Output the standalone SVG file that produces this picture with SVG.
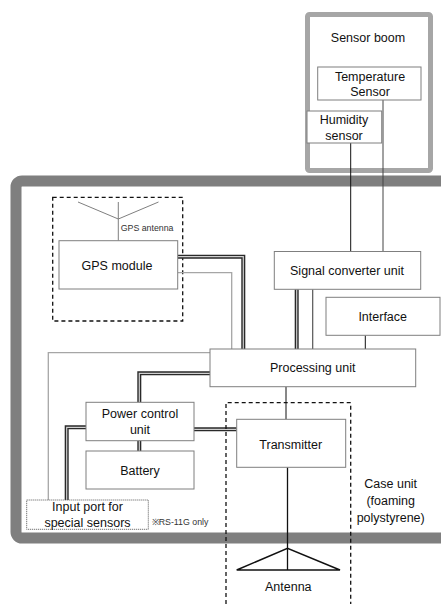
<svg xmlns="http://www.w3.org/2000/svg" width="441" height="604" viewBox="0 0 441 604">
<style>
text{font-family:"Liberation Sans",Arial,sans-serif;font-size:12.5px;fill:#111;text-anchor:middle}
.small{font-size:8.8px;fill:#333;text-anchor:start}
.box{fill:#fff;stroke:#7f7f7f;stroke-width:1}
.dash{fill:none;stroke:#111;stroke-width:1.3;stroke-dasharray:4 3}
.thin{fill:none;stroke:#111;stroke-width:1}
.gray{fill:none;stroke:#a6a6a6;stroke-width:1.3}
.dblo{fill:none;stroke:#2a2a2a;stroke-width:4}
.dbli{fill:none;stroke:#d0d0d0;stroke-width:1.2}
</style>
<rect width="441" height="604" fill="#fff"/>
<g id="case-fill"><rect x="16" y="181" width="460" height="357" rx="6" fill="#fff"/></g>
<g id="sensor-boom">
<rect x="307.5" y="14.5" width="123" height="156" fill="#fff" stroke="#a6a6a6" stroke-width="5" rx="2"/>
<text x="368" y="42">Sensor boom</text>
</g>
<g id="case-border">
<rect x="16" y="181" width="460" height="357" rx="6" fill="none" stroke="#7f7f7f" stroke-width="11"/>
</g>
<g id="gps-group">
<rect class="dash" x="52.7" y="197.3" width="130" height="123.7"/>
<path d="M78 202 L118.3 219 L158.5 202 M118.3 202 V240.7" fill="none" stroke="#7f7f7f" stroke-width="1"/>
<text class="small" x="120.7" y="231">GPS antenna</text>
</g>
<g id="connectors">
<path class="thin" d="M350.7 143 V251.5"/>
<path d="M383 100 V251.5" fill="none" stroke="#444" stroke-width="1"/>
<path class="gray" d="M177.7 272.7 H231.7 V349"/>
<path class="gray" d="M210 352.7 H48.3 V500"/>
<path d="M312.7 289.3 V349" fill="none" stroke="#555" stroke-width="1.2"/>
<path class="thin" d="M365.3 335.3 V349"/>
<path class="thin" d="M286 386.7 V419.3"/>
<path d="M287.5 467.3 V570" fill="none" stroke="#111" stroke-width="1.3"/>
<path d="M236.7 570 L287.5 548.3 L340 570 Z" fill="none" stroke="#111" stroke-width="1.5"/>
<g class="double">
<path class="dblo" d="M177.7 256.7 H243.3 V349"/>
<path class="dbli" d="M177.7 256.7 H243.3 V349"/>
<path class="dblo" d="M296.7 289.3 V349"/>
<path class="dbli" d="M296.7 289.3 V349"/>
<path class="dblo" d="M210 373.3 H139.3 V402.3"/>
<path class="dbli" d="M210 373.3 H139.3 V402.3"/>
<path class="dblo" d="M139.3 440.7 V451"/>
<path class="dbli" d="M139.3 440.7 V451"/>
<path class="dblo" d="M86 427.3 H66.7 V500"/>
<path class="dbli" d="M86 427.3 H66.7 V500"/>
<path class="dblo" d="M194 429.3 H236.7"/>
<path class="dbli" d="M194 429.3 H236.7"/>
</g>
<path class="dash" d="M226 604 V402.7 H350.7 V604"/>
</g>
<g id="temperature-sensor">
<rect class="box" x="317.7" y="67" width="103.3" height="33"/>
<text x="370" y="80.5">Temperature</text>
<text x="370" y="95.5">Sensor</text>
</g>
<g id="humidity-sensor">
<rect class="box" x="307" y="111" width="74.7" height="32"/>
<text x="344" y="123.5">Humidity</text>
<text x="344" y="140">sensor</text>
</g>
<g id="gps-module">
<rect class="box" x="59" y="240.7" width="118.7" height="48.3"/>
<text x="117" y="270">GPS module</text>
</g>
<g id="signal-converter">
<rect class="box" x="274.3" y="251.5" width="146.4" height="37.8"/>
<text x="347" y="274.5">Signal converter unit</text>
</g>
<g id="interface">
<rect class="box" x="326" y="297.3" width="114" height="38"/>
<text x="382.7" y="321">Interface</text>
</g>
<g id="processing-unit">
<rect class="box" x="210" y="349" width="205.7" height="37.7"/>
<text x="312.7" y="371.7">Processing unit</text>
</g>
<g id="power-control">
<rect class="box" x="86" y="402.3" width="108" height="38.4"/>
<text x="140" y="417.7">Power control</text>
<text x="140" y="433.7">unit</text>
</g>
<g id="battery">
<rect class="box" x="86" y="451" width="108" height="38"/>
<text x="140" y="475">Battery</text>
</g>
<g id="input-port">
<rect x="26.7" y="500" width="121.6" height="29.3" fill="#fff" stroke="#555" stroke-width="1" stroke-dasharray="1 1"/>
<text x="87.5" y="510.5">Input port for</text>
<text x="87.5" y="527">special sensors</text>
<text class="small" x="151.7" y="525">※RS-11G only</text>
</g>
<g id="transmitter">
<rect class="box" x="236.7" y="419.3" width="109" height="48"/>
<text x="290.7" y="449.3">Transmitter</text>
</g>
<g id="antenna-label"><text x="288.3" y="590.5">Antenna</text></g>
<g id="case-label">
<text x="390.7" y="487.5">Case unit</text>
<text x="390.7" y="505">(foaming</text>
<text x="390.7" y="521.5">polystyrene)</text>
</g>
</svg>
